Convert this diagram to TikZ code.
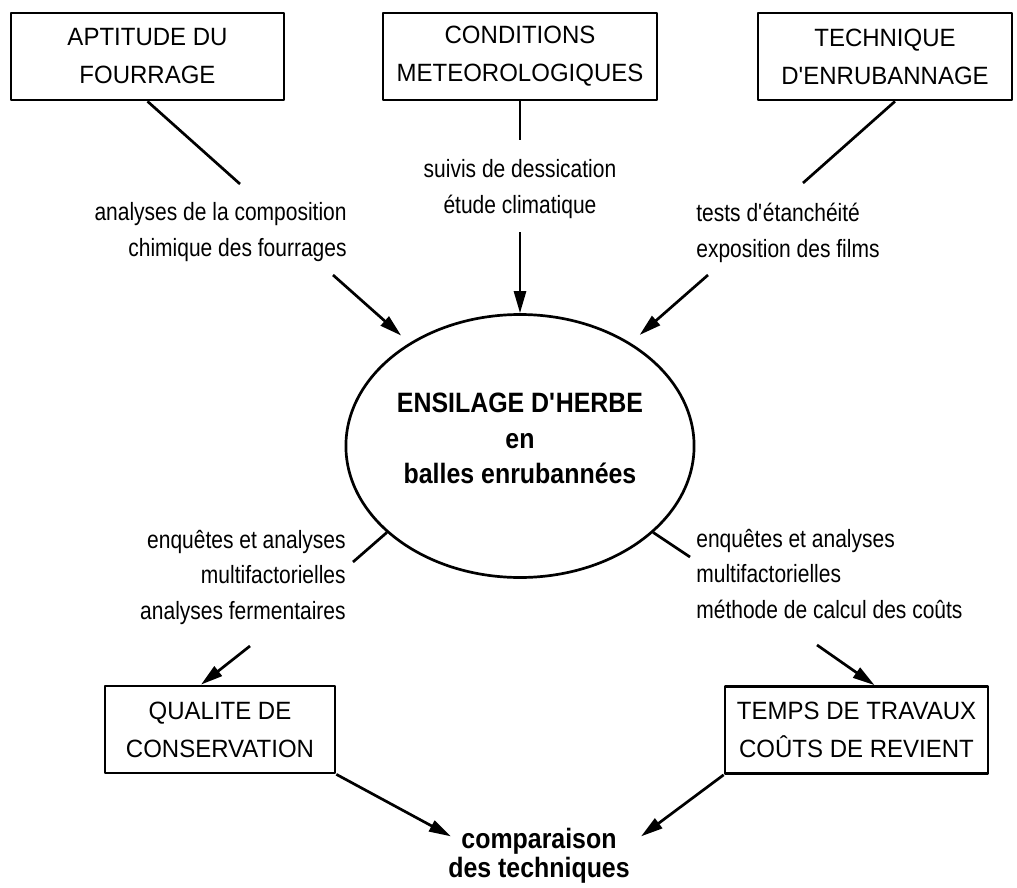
\documentclass[tikz,border=0pt]{standalone}
\usepackage{fontspec}
\setmainfont{Liberation Sans}
\newfontfamily\boxfont{Liberation Sans}[FakeStretch=0.96]
\newfontfamily\notefont{Liberation Sans}[FakeStretch=0.84]
\newfontfamily\titlefont{Liberation Sans}[FakeStretch=0.89]
\usetikzlibrary{arrows.meta,shapes.geometric}
\begin{document}
\begin{tikzpicture}[x=1pt, y=-1pt, line width=2.7pt, line join=round, >={Triangle[length=22pt,width=12pt]},
	box/.style={draw, rectangle, inner sep=0pt, minimum height=87pt, align=center, font=\boxfont\fontsize{25}{38}\selectfont},
	note/.style={inner sep=0pt, font=\notefont\fontsize{25}{35.5}\selectfont},
	title/.style={inner sep=0pt, align=center, font=\titlefont\fontsize{28}{35.5}\selectfont\bfseries}]
	\useasboundingbox (0,0) rectangle (1017,888);
	% boxes
	\node[box, minimum width=273pt] (apt) at (147.5,56.5) {APTITUDE DU\\FOURRAGE};
	\node[box, minimum width=274pt] (cond) at (520,56.5) {CONDITIONS\\METEOROLOGIQUES};
	\node[box, minimum width=254pt] (tech) at (885,56.5) {TECHNIQUE\\D\textquotesingle ENRUBANNAGE};
	\node[box, minimum width=230pt] (qual) at (220,729.5) {QUALITE DE\\CONSERVATION};
	\node[box, minimum width=263pt] (temps) at (856.5,730) {TEMPS DE TRAVAUX\\COÛTS DE REVIENT};
	% centre and result
	\node[draw, ellipse, minimum width=338pt, minimum height=263pt, text depth=15pt, title] (ens) at (520,446)
		{ENSILAGE D\textquotesingle HERBE\\en\\balles enrubannées};
	\node[title, anchor=base, font=\titlefont\fontsize{28}{29}\selectfont\bfseries] (comp) at (539,877) {comparaison\\des techniques};
	% methods
	\node[note, anchor=base east, align=right] (chim) at (348,256) {analyses de la composition\\chimique des fourrages};
	\node[note, anchor=base, align=center] (meteo) at (520,213) {suivis de dessication\\étude climatique};
	\node[note, anchor=base west, align=left] (film) at (695,257) {tests d\textquotesingle{}étanchéité\\exposition des films};
	\node[note, anchor=base east, align=right] (ferm) at (347,619) {enquêtes et analyses\\multifactorielles\\analyses fermentaires};
	\node[note, anchor=base west, align=left] (cout) at (695,618) {enquêtes et analyses\\multifactorielles\\méthode de calcul des coûts};
	% free ends
	\coordinate (a1) at (240,184);
	\coordinate (a2) at (333,275);
	\coordinate (c1) at (520,140);
	\coordinate (c2) at (520,232);
	\coordinate (t1) at (803,183);
	\coordinate (t2) at (708,275);
	\coordinate (q1) at (353,562);
	\coordinate (q2) at (250,646);
	\coordinate (m1) at (690,557);
	\coordinate (m2) at (817,645);
	% links
	\draw (apt.south) -- (a1);
	\draw[->, shorten >=11pt] (a2) -- (ens.137);
	\draw (cond.south) -- (c1);
	\draw[->] (c2) -- (ens.north);
	\draw ([xshift=10pt]tech.south) -- (t1);
	\draw[->, shorten >=12pt] (t2) -- (ens.43);
	\draw (ens.213) -- (q1);
	\draw[->] (q2) -- ([xshift=-19pt]qual.north);
	\draw (ens.-33) -- (m1);
	\draw[->] (m2) -- ([xshift=18pt]temps.north);
	\draw[->] (qual.south east) -- ([shift={(4,10)}]comp.north west);
	\draw[->] (temps.south west) -- ([shift={(10,10)}]comp.north east);
\end{tikzpicture}
\end{document}
